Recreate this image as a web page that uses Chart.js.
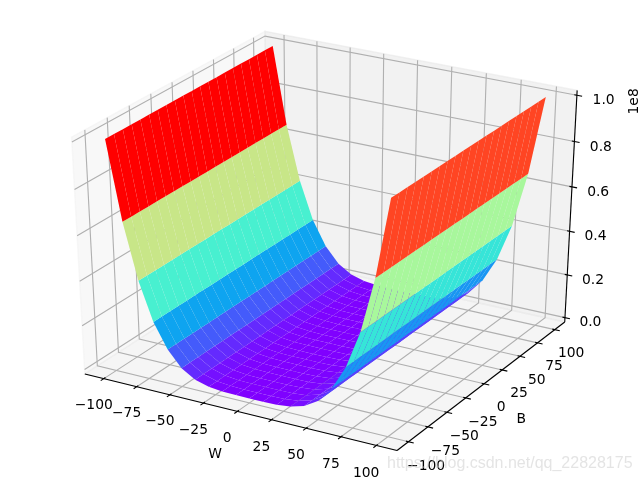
<!DOCTYPE html>
<html>
<head>
<meta charset="utf-8">
<title>Loss surface</title>
<script src="https://cdn.jsdelivr.net/npm/chart.js@4"></script>
<style>
  html, body { margin: 0; padding: 0; background: #fff; }
  #chart-box { position: relative; width: 640px; height: 480px; }
</style>
</head>
<body>
<div id="chart-box"><canvas id="surfaceChart" width="640" height="480"></canvas></div>
<script>
// Grid of the surface
const wValues = [-100, -90, -80, -70, -60, -50, -40, -30, -20, -10, 0, 10, 20, 30, 40, 50, 60, 70, 80, 90, 100];
const bValues = [-100, -90, -80, -70, -60, -50, -40, -30, -20, -10, 0, 10, 20, 30, 40, 50, 60, 70, 80, 90, 100];
// Loss only changes along W, one height per W value
const lossByW = [1.0e8, 6.6e7, 4.15e7, 2.45e7, 1.34e7, 6.4e6, 2.6e6, 8.3e5, 1.7e5, 1.2e4, 0,
                 1.0e4, 1.6e5, 8.1e5, 2.6e6, 6.4e6, 1.35e7, 2.46e7, 4.13e7, 6.59e7, 1.005e8];
// Colour level of each strip between two W values
const bandLevels = [1, 0.643, 0.392, 0.223, 0.116, 0.053, 0.02, 0.005, 0.001, 0,
                    0, 0.001, 0.004, 0.017, 0.045, 0.09, 0.2, 0.355, 0.58, 0.913];

const wTicks = [-100, -75, -50, -25, 0, 25, 50, 75, 100];
const bTicks = [-100, -75, -50, -25, 0, 25, 50, 75, 100];
const zTicks = [0, 2e7, 4e7, 6e7, 8e7, 1e8];
const zTickLabels = ["0.0", "0.2", "0.4", "0.6", "0.8", "1.0"];

const xLim = [-110, 110];
const yLim = [-110, 110];
const zLim = [0, 1.0e8];

const FONT = '13.89px "DejaVu Sans"';
const GRID_COLOR = "#b0b0b0";
const LINE_W = 1.11;

// Same camera as a default 3D axes: elev 30, azim -60, dist 10
const elev = 30 * Math.PI / 180;
const azim = -60 * Math.PI / 180;
const dist = 10;
const eye = [
    0.5 + Math.cos(azim) * Math.cos(elev) * dist,
    0.5 + Math.sin(azim) * Math.cos(elev) * dist,
    0.5 + Math.sin(elev) * dist
];

function cross(a, b) {
    return [a[1] * b[2] - a[2] * b[1], a[2] * b[0] - a[0] * b[2], a[0] * b[1] - a[1] * b[0]];
}
function unit(a) {
    let len = Math.hypot(a[0], a[1], a[2]);
    return a.map(v => v / len);
}
function dot(a, b) {
    return a[0] * b[0] + a[1] * b[1] + a[2] * b[2];
}
const viewN = unit([eye[0] - 0.5, eye[1] - 0.5, eye[2] - 0.5]);
const viewU = unit(cross([0, 0, 1], viewN));
const viewV = unit(cross(viewN, viewU));

// 3D data position -> flat position on the chart's x/y scales
function project(p) {
    let d = [
        (p[0] - xLim[0]) / (xLim[1] - xLim[0]) - eye[0],
        (p[1] - yLim[0]) / (yLim[1] - yLim[0]) - eye[1],
        (p[2] - zLim[0]) / (zLim[1] - zLim[0]) - eye[2]
    ];
    let w = -dot(viewN, d);
    return { x: dot(viewU, d) / w, y: dot(viewV, d) / w, depth: -10 / w };
}

// matplotlib "rainbow" colormap
function rainbow(t) {
    let r = Math.min(1, Math.abs(2 * t - 0.5));
    let g = Math.sin(Math.PI * t);
    let b = Math.cos(Math.PI * t / 2);
    return `rgb(${Math.round(r * 255)},${Math.round(g * 255)},${Math.round(b * 255)})`;
}

// Box edges sit a little outside the limits
const dx = (xLim[1] - xLim[0]) / 12;
const dy = (yLim[1] - yLim[0]) / 12;
const dz = (zLim[1] - zLim[0]) / 12;
const xLo = xLim[0] - dx / 4, xHi = xLim[1] + dx / 4;
const yLo = yLim[0] - dy / 4, yHi = yLim[1] + dy / 4;
const zLo = zLim[0] - dz / 4, zHi = zLim[1] + dz / 4;

let datasets = [];

function addPane(corners, color) {
    datasets.push({ data: corners.map(project), polyFill: color, polyEdge: color, showLine: false, pointRadius: 0 });
}
function addLine(points, color) {
    datasets.push({ data: points.map(project), showLine: true, borderColor: color, borderWidth: LINE_W, pointRadius: 0, fill: false, tension: 0 });
}

// Panes
addPane([[xLo, yLo, zLo], [xLo, yHi, zLo], [xLo, yHi, zHi], [xLo, yLo, zHi]], "rgba(242,242,242,0.5)");
addPane([[xLo, yHi, zLo], [xHi, yHi, zLo], [xHi, yHi, zHi], [xLo, yHi, zHi]], "rgba(230,230,230,0.5)");
addPane([[xLo, yLo, zLo], [xHi, yLo, zLo], [xHi, yHi, zLo], [xLo, yHi, zLo]], "rgba(236,236,236,0.5)");

// Grid lines
wTicks.forEach(t => addLine([[t, yLo, zLo], [t, yHi, zLo], [t, yHi, zHi]], GRID_COLOR));
bTicks.forEach(t => addLine([[xHi, t, zLo], [xLo, t, zLo], [xLo, t, zHi]], GRID_COLOR));
zTicks.forEach(t => addLine([[xLo, yLo, t], [xLo, yHi, t], [xHi, yHi, t]], GRID_COLOR));

// Axis lines
addLine([[xLo, yLo, zLo], [xHi, yLo, zLo]], "#000");
addLine([[xHi, yLo, zLo], [xHi, yHi, zLo]], "#000");
addLine([[xHi, yHi, zLo], [xHi, yHi, zHi]], "#000");

// Tick marks
wTicks.forEach(t => addLine([[t, yLo - 0.2 * dy, zLo], [t, yLo + 0.1 * dy, zLo]], "#000"));
bTicks.forEach(t => addLine([[xHi + 0.2 * dx, t, zLo], [xHi - 0.1 * dx, t, zLo]], "#000"));
zTicks.forEach(t => addLine([[xHi + 0.2 * dx, yHi, t], [xHi - 0.1 * dx, yHi, t]], "#000"));

// Surface cells, far ones first
let cells = [];
for (let i = 0; i < wValues.length - 1; i++) {
    for (let j = 0; j < bValues.length - 1; j++) {
        let pts = [
            [wValues[i], bValues[j], lossByW[i]],
            [wValues[i + 1], bValues[j], lossByW[i + 1]],
            [wValues[i + 1], bValues[j + 1], lossByW[i + 1]],
            [wValues[i], bValues[j + 1], lossByW[i]]
        ].map(project);
        cells.push({ pts: pts, level: bandLevels[i], depth: pts.reduce((s, q) => s + q.depth, 0) / 4 });
    }
}
cells.sort((a, b) => b.depth - a.depth);
cells.forEach(c => {
    datasets.push({ data: c.pts, polyFill: rainbow(c.level), showLine: false, pointRadius: 0 });
});

// First dataset has to be painted first
datasets.forEach((d, i) => { d.order = -i; });

// Text labels: [text, 3D position, pixels to move down]
let labels = [];
const tickShift = 0.685, nameShift = 1.5;
wTicks.forEach(t => labels.push([String(t).replace("-", "\u2212"), [t, yLo - tickShift * dy, zLo - tickShift * dz], 7.5]));
bTicks.forEach(t => labels.push([String(t).replace("-", "\u2212"), [xHi + tickShift * dx, t, zLo - tickShift * dz], 7.5]));
zTicks.forEach((t, i) => labels.push([zTickLabels[i], [xHi + tickShift * dx, yHi + tickShift * dy, t], 8]));
labels.push(["W", [0, yLo - nameShift * dy, zLo - nameShift * dz], 0]);
labels.push(["B", [xHi + nameShift * dx, 0, zLo - nameShift * dz], 0]);

// Fills the closed cells from the points the scales have placed
const polygonPlugin = {
    id: "polygonPlugin",
    afterDatasetDraw(chart, args) {
        let ds = chart.data.datasets[args.index];
        if (!ds.polyFill) return;
        let ctx = chart.ctx;
        let pts = args.meta.data;
        ctx.save();
        ctx.beginPath();
        pts.forEach((p, i) => { i === 0 ? ctx.moveTo(p.x, p.y) : ctx.lineTo(p.x, p.y); });
        ctx.closePath();
        ctx.fillStyle = ds.polyFill;
        ctx.fill();
        if (ds.polyEdge) {
            ctx.strokeStyle = ds.polyEdge;
            ctx.lineWidth = 1.4;
            ctx.stroke();
        }
        ctx.restore();
    }
};

const textPlugin = {
    id: "textPlugin",
    afterDraw(chart) {
        let ctx = chart.ctx;
        let sx = chart.scales.x, sy = chart.scales.y;
        ctx.save();
        ctx.font = FONT;
        ctx.fillStyle = "#000";
        ctx.textAlign = "center";
        ctx.textBaseline = "middle";
        labels.forEach(l => {
            let q = project(l[1]);
            ctx.fillText(l[0], sx.getPixelForValue(q.x), sy.getPixelForValue(q.y) + l[2]);
        });
        // Offset text of the z axis
        let top = project([xHi, yHi, zHi]);
        ctx.translate(sx.getPixelForValue(top.x) + 57, sy.getPixelForValue(top.y) + 11);
        ctx.rotate(-Math.PI / 2);
        ctx.fillText("1e8", 0, 0);
        ctx.restore();
        // Site watermark in the corner
        ctx.save();
        ctx.font = '16px "Liberation Sans"';
        ctx.fillStyle = "rgba(205,205,205,0.55)";
        ctx.textAlign = "left";
        ctx.textBaseline = "alphabetic";
        ctx.fillText("https://blog.csdn.net/qq_22828175", 387, 467.5);
        ctx.restore();
    }
};

new Chart(document.getElementById("surfaceChart").getContext("2d"), {
    type: "scatter",
    data: { datasets: datasets },
    options: {
        responsive: false,
        animation: false,
        layout: { padding: 0 },
        plugins: { legend: { display: false }, tooltip: { enabled: false } },
        scales: {
            x: { type: "linear", display: false, min: -0.095, max: 0.09 },
            y: { type: "linear", display: false, min: -0.095, max: 0.09 }
        }
    },
    plugins: [polygonPlugin, textPlugin]
});
</script>
</body>
</html>
